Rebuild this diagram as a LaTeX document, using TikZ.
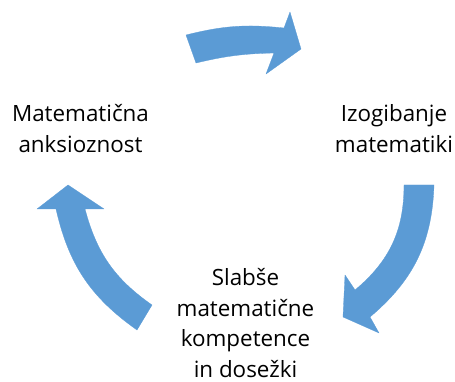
\documentclass[tikz,border=0pt]{standalone}
\usepackage{fontspec}
\setmainfont{Open Sans}
\definecolor{cycleblue}{HTML}{5B9BD5}
\begin{document}
\begin{tikzpicture}[x=1pt,y=-1pt,
  blockarrow/.style={fill=cycleblue,draw=cycleblue,line width=0.3pt,line join=round},
  label/.style={anchor=north,inner sep=0pt,align=center,text=black,
    font=\fontsize{22.4}{30.5}\selectfont}]
\useasboundingbox (0,0) rectangle (455,382);

% the three stages of the cycle
\node[label] (anx) at (80.5,100) {\strut Matematična\\\strut anksioznost};
\node[label] (avoid) at (394,100) {\strut Izogibanje\\\strut matematiki};
\node[label] (comp) at (245.5,264) {\strut Slabše\\\strut matematične\\\strut kompetence\\\strut in dosežki};

% curved block arrows between the stages
\fill[blockarrow] (186,35) to[bend left=10] (284,28) -- (290,12) -- (301,49)
  -- (266,74) -- (274,53) to[bend right=6] (196,63) -- cycle;
\fill[blockarrow] (404,185) -- (434,185) to[bend left=24] (370,317) -- (379,333)
  -- (343,317) -- (345,275) -- (355,290) to[bend right=25] (404,185) -- cycle;
\fill[blockarrow] (68,185) -- (104,209) -- (85,209) to[bend right=20] (152,305)
  -- (137,330) to[bend left=21] (56,209) -- (37,209) -- cycle;
\end{tikzpicture}
\end{document}
